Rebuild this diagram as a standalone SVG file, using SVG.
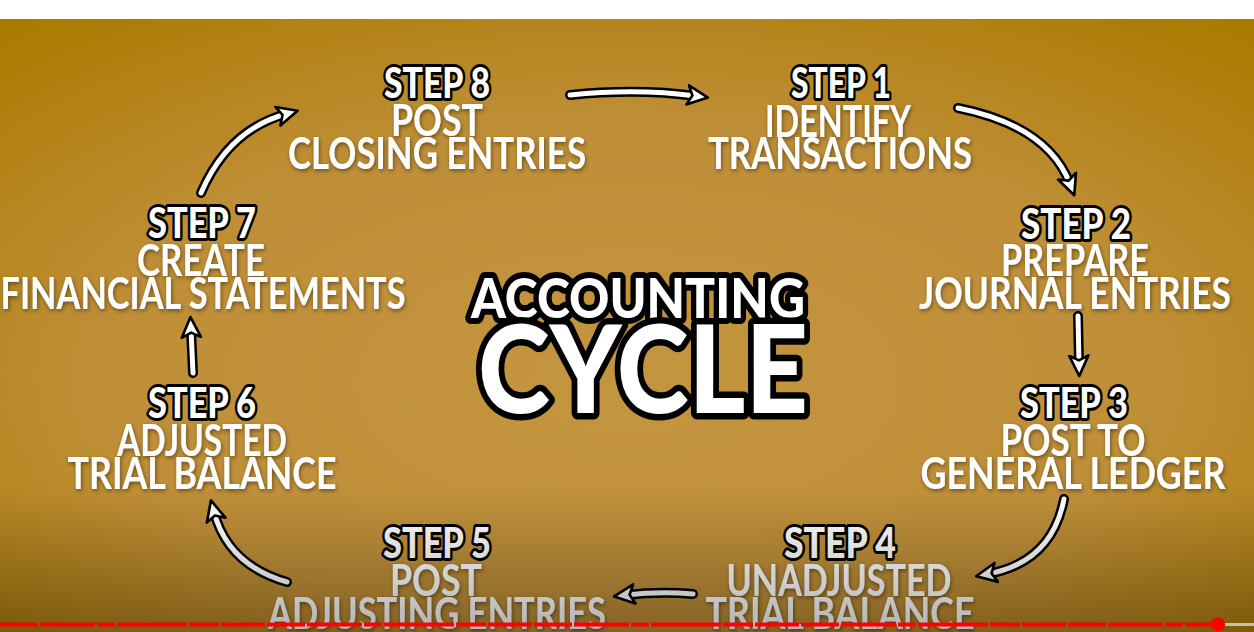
<svg xmlns="http://www.w3.org/2000/svg" width="1254" height="632" viewBox="0 0 1254 632">
<defs>
<radialGradient id="bg" cx="50%" cy="58%" r="75%" fx="50%" fy="60%">
<stop offset="0" stop-color="#c4953f"/>
<stop offset="0.55" stop-color="#bf8f38"/>
<stop offset="1" stop-color="#aa7a00"/>
</radialGradient>
<linearGradient id="shade" x1="0" y1="0" x2="0" y2="1">
<stop offset="0" stop-color="#000" stop-opacity="0"/>
<stop offset="1" stop-color="#000" stop-opacity="0.3"/>
</linearGradient>
<filter id="sh" x="-10%" y="-30%" width="120%" height="160%">
<feDropShadow dx="1" dy="2" stdDeviation="2" flood-color="#000" flood-opacity="0.45"/>
</filter>
<marker id="ah" viewBox="0 0 20 20" refX="8" refY="10" markerWidth="24" markerHeight="24" markerUnits="userSpaceOnUse" orient="auto">
<polygon points="1,2 18,10 1,18 5,10" fill="#fff" stroke="#000" stroke-width="2.2" stroke-linejoin="round"/>
</marker>
</defs>
<style>
.st{font-family:"Lato","Liberation Sans",sans-serif;font-weight:900;font-size:42px;fill:#fff;stroke:#000;stroke-width:6px;paint-order:stroke;stroke-linejoin:round;text-anchor:middle}
.ds{font-family:"Lato","Liberation Sans",sans-serif;font-weight:700;font-size:44px;fill:#fff;text-anchor:middle;filter:url(#sh)}
.tt{font-family:"Lato","Liberation Sans",sans-serif;font-weight:900;fill:#fff;stroke:#000;paint-order:stroke;stroke-linejoin:round;text-anchor:middle}
.lo{fill:none;stroke:#000;stroke-width:10;stroke-linecap:round}
.li{fill:none;stroke:#fff;stroke-width:5;stroke-linecap:round;marker-end:url(#ah)}
</style>
<rect x="0" y="0" width="1254" height="632" fill="#fff"/>
<rect x="0" y="19" width="1254" height="613" fill="url(#bg)"/>

<g id="title">
<text class="tt" x="638" y="318" font-size="56" stroke-width="12" textLength="334" lengthAdjust="spacingAndGlyphs">ACCOUNTING</text>
<text class="tt" x="643" y="413" font-size="122" stroke-width="13" textLength="330" lengthAdjust="spacingAndGlyphs">CYCLE</text>
</g>

<g id="step8">
<text class="st" x="437" y="98" textLength="106" lengthAdjust="spacingAndGlyphs">STEP 8</text>
<text class="ds" x="437" y="136" textLength="92" lengthAdjust="spacingAndGlyphs">POST</text>
<text class="ds" x="437" y="169" textLength="298" lengthAdjust="spacingAndGlyphs">CLOSING ENTRIES</text>
</g>
<g id="step1">
<text class="st" x="841" y="98" textLength="100" lengthAdjust="spacingAndGlyphs">STEP 1</text>
<text class="ds" x="838" y="137" textLength="146" lengthAdjust="spacingAndGlyphs">IDENTIFY</text>
<text class="ds" x="840" y="169" textLength="264" lengthAdjust="spacingAndGlyphs">TRANSACTIONS</text>
</g>
<g id="step2">
<text class="st" x="1076" y="239" textLength="110" lengthAdjust="spacingAndGlyphs">STEP 2</text>
<text class="ds" x="1075" y="276" textLength="148" lengthAdjust="spacingAndGlyphs">PREPARE</text>
<text class="ds" x="1075" y="309" textLength="312" lengthAdjust="spacingAndGlyphs">JOURNAL ENTRIES</text>
</g>
<g id="step3">
<text class="st" x="1074" y="418" textLength="108" lengthAdjust="spacingAndGlyphs">STEP 3</text>
<text class="ds" x="1073" y="456" textLength="145" lengthAdjust="spacingAndGlyphs">POST TO</text>
<text class="ds" x="1073" y="489" textLength="305" lengthAdjust="spacingAndGlyphs">GENERAL LEDGER</text>
</g>
<g id="step4">
<text class="st" x="840" y="558" textLength="112" lengthAdjust="spacingAndGlyphs">STEP 4</text>
<text class="ds" x="839" y="596" textLength="225" lengthAdjust="spacingAndGlyphs">UNADJUSTED</text>
<text class="ds" x="840" y="629" textLength="269" lengthAdjust="spacingAndGlyphs">TRIAL BALANCE</text>
</g>
<g id="step5">
<text class="st" x="437" y="558" textLength="108" lengthAdjust="spacingAndGlyphs">STEP 5</text>
<text class="ds" x="436" y="596" textLength="92" lengthAdjust="spacingAndGlyphs">POST</text>
<text class="ds" x="437" y="629" textLength="338" lengthAdjust="spacingAndGlyphs">ADJUSTING ENTRIES</text>
</g>
<g id="step6">
<text class="st" x="202" y="418" textLength="108" lengthAdjust="spacingAndGlyphs">STEP 6</text>
<text class="ds" x="202" y="456" textLength="170" lengthAdjust="spacingAndGlyphs">ADJUSTED</text>
<text class="ds" x="202" y="489" textLength="269" lengthAdjust="spacingAndGlyphs">TRIAL BALANCE</text>
</g>
<g id="step7">
<text class="st" x="202" y="238" textLength="108" lengthAdjust="spacingAndGlyphs">STEP 7</text>
<text class="ds" x="201" y="276" textLength="128" lengthAdjust="spacingAndGlyphs">CREATE</text>
<text class="ds" x="203" y="309" textLength="405" lengthAdjust="spacingAndGlyphs">FINANCIAL STATEMENTS</text>
</g>

<g id="connectors">
<path class="lo" d="M570 95 Q637 88 696 96"/>
<path class="li" d="M570 95 Q637 88 696 96"/>
<path class="lo" d="M958 108 Q1048 126 1070 184"/>
<path class="li" d="M958 108 Q1048 126 1070 184"/>
<path class="lo" d="M1078 316 L1079 364"/>
<path class="li" d="M1078 316 L1079 364"/>
<path class="lo" d="M1064 499 Q1052 562 988 574"/>
<path class="li" d="M1064 499 Q1052 562 988 574"/>
<path class="lo" d="M693 594 Q660 591 626 595"/>
<path class="li" d="M693 594 Q660 591 626 595"/>
<path class="lo" d="M287 582 Q228 565 214 512"/>
<path class="li" d="M287 582 Q228 565 214 512"/>
<path class="lo" d="M193 373 L191 329"/>
<path class="li" d="M193 373 L191 329"/>
<path class="lo" d="M201 193 Q228 130 286 114"/>
<path class="li" d="M201 193 Q228 130 286 114"/>
</g>

<rect x="0" y="490" width="1254" height="142" fill="url(#shade)"/>

<g id="progress">
<line x1="0" y1="624.5" x2="1218" y2="624.5" stroke="#ff0000" stroke-width="4" stroke-dasharray="38 2 55 2 18 2 70 2 30 2 44 2"/>
<line x1="1218" y1="624.5" x2="1254" y2="624.5" stroke="#cdbfa3" stroke-width="3"/>
<circle cx="1218" cy="624.5" r="7" fill="#ff0000"/>
</g>
</svg>
